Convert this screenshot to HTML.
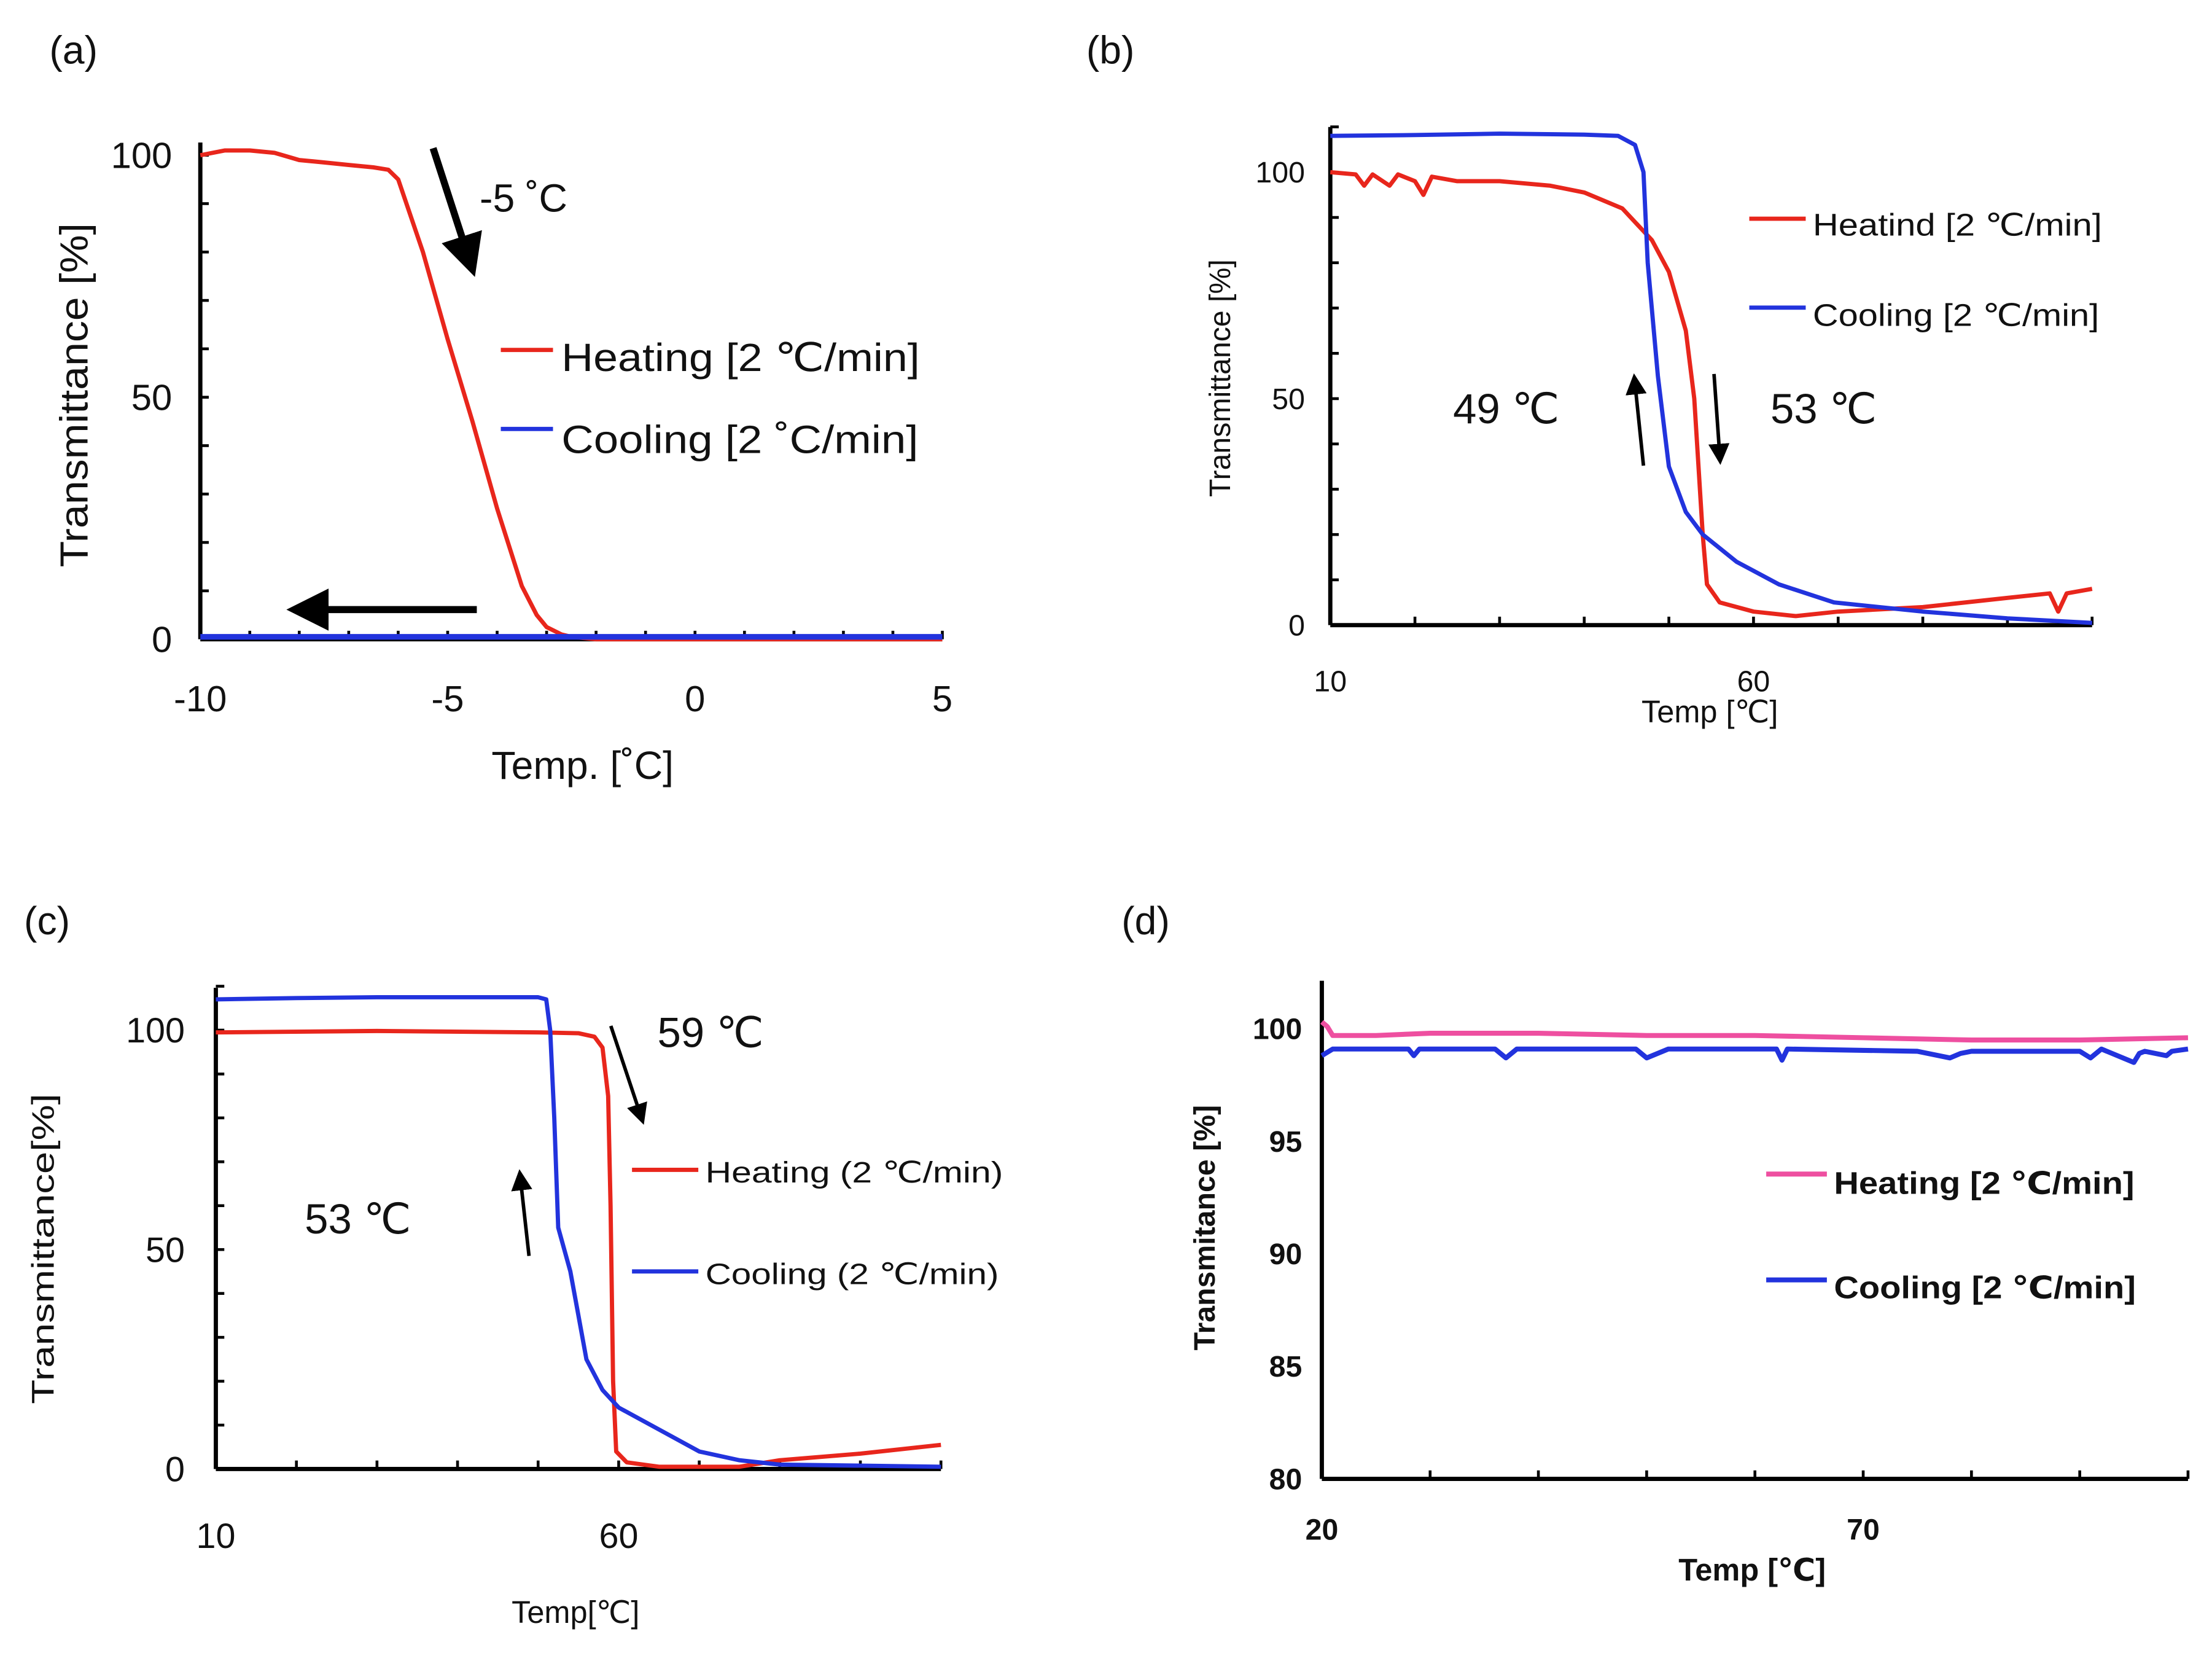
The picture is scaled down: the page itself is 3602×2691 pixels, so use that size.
<!DOCTYPE html>
<html><head><meta charset="utf-8"><style>
html,body{margin:0;padding:0;background:#fff}
svg{display:block}
text{font-family:"Liberation Sans","DejaVu Sans",sans-serif;fill:#111}
</style></head><body>
<svg id="fig" width="3602" height="2691" viewBox="0 0 1568 1171.4" preserveAspectRatio="none" xmlns="http://www.w3.org/2000/svg">
<defs>
<marker id="ah" markerWidth="6" markerHeight="6" refX="3" refY="3" orient="auto" markerUnits="strokeWidth"><path d="M0,0 L6,3 L0,6 z" fill="#000"/></marker>
</defs>
</svg>
<script>
// ---- data ----
const aHeatX=[-10,-9.5,-9,-8.5,-8,-7.5,-7,-6.5,-6.2,-6,-5.5,-5,-4.5,-4,-3.5,-3.2,-3,-2.7,-2.5,-2,0,5];
const aHeatY=[100,101,101,100.5,99,98.5,98,97.5,97,95,80,62,45,27,11,5,2.5,1,0.5,0,0,0];
const aCoolX=[-10,5];
const aCoolY=[0.5,0.5];
const aXTicks=[-10,-5,0,5];
const aYTicks=[0,50,100];

const bHeatX=[10,13,14,15,17,18,20,21,22,25,30,36,40,44.5,48,50,52,53,53.5,54,54.5,56,60,65,70,80,90,95,96,97,100];
const bHeatY=[100,99.5,97,99.5,97,99.5,98,95,99,98,98,97,95.5,92,85,78,65,50,35,20,9,5,3,2,3,4,6,7,3,7,8];
const bCoolX=[10,20,30,40,44,46,47,47.5,48.7,50,52,54,58,63,69.5,80,90,100];
const bCoolY=[108,108.2,108.5,108.3,108,106,100,80,55,35,25,20,14,9,5,3,1.5,0.5];
const bXTicks=[10,60];
const bYTicks=[0,50,100];

const cHeatX=[10,30,50,55,57,58,58.7,59,59.3,59.7,61,65,75,80,90,100];
const cHeatY=[99.5,99.8,99.5,99.3,98.5,96,85,60,20,4,1.5,0.5,0.5,2,3.5,5.5];
const cCoolX=[10,20,30,50,51,51.5,52,52.5,54,55,56,58,60,65,70,75,80,100];
const cCoolY=[107,107.3,107.5,107.5,107,100,80,55,45,35,25,18,14,9,4,2,1,0.5];
const cXTicks=[10,60];
const cYTicks=[0,50,100];

const dHeatX=[20,20.5,21,25,30,35,40,50,60,70,80,90,100];
const dHeatY=[100.3,100.1,99.7,99.7,99.8,99.8,99.8,99.7,99.7,99.6,99.5,99.5,99.6];
const dCoolX=[20,21,28,28.5,29,30,36,37,38,49,50,52,62,62.5,63,75,78,79,80,90,91,92,95,95.5,96,98,98.5,100];
const dCoolY=[98.8,99.1,99.1,98.8,99.1,99.1,99.1,98.7,99.1,99.1,98.7,99.1,99.1,98.6,99.1,99.0,98.7,98.9,99.0,99.0,98.7,99.1,98.5,98.9,99.0,98.8,99.0,99.1];
const dXTicks=[20,70];
const dYTicks=[80,85,90,95,100];

const NS="http://www.w3.org/2000/svg";
const svg=document.getElementById('fig');
function mk(tag,attrs,parent){const e=document.createElementNS(NS,tag);for(const k in attrs)e.setAttribute(k,attrs[k]);(parent||svg).appendChild(e);return e;}
function txt(s,x,y,size,anchor,parent,extra){const t=mk('text',Object.assign({x:x,y:y,'font-size':size,'text-anchor':anchor||'start'},extra||{}),parent);t.textContent=s;return t;}

function panel(p){
  const g=mk('g',{});
  
  
  const sx=v=>p.x0+(v-p.xmin)/(p.xmax-p.xmin)*(p.x1-p.x0);
  const sy=v=>p.y0-(v-p.ymin)/(p.ymax-p.ymin)*(p.y0-p.y1);
  for(let v=p.xmin+p.xminor;v<=p.xmax+1e-6;v+=p.xminor){
    const t=mk('line',{x1:sx(v),x2:sx(v),y1:p.y0,y2:p.y0-6,stroke:'#000','stroke-width':2},g);
    
    
  }
  for(let v=p.ymin+p.yminor;v<=p.ytop+1e-6;v+=p.yminor){
    const t=mk('line',{x1:p.x0,x2:p.x0+6,y1:sy(v),y2:sy(v),stroke:'#000','stroke-width':2},g);
    
    
  }
  const ya=mk('line',{x1:p.x0,x2:p.x0,y1:p.y0,y2:p.yAxisTop,stroke:'#000','stroke-width':3},g);
  
  
  const xa=mk('line',{x1:p.x0,x2:p.x1,y1:p.y0,y2:p.y0,stroke:'#000','stroke-width':3},g);
  
  
  p.xticks.forEach(v=>{const t=txt(String(v),sx(v),p.xLabY,p.tickSize,'middle',g,p.bold?{'font-weight':'bold'}:{});
    
    });
  p.yticks.forEach(v=>{const t=txt(String(v),p.x0-p.yLabGap,sy(v)+p.tickSize*0.35,p.tickSize,'end',g,p.bold?{'font-weight':'bold'}:{});
    
    });
  p.series.forEach(s=>{
    let d='';s.x.forEach((v,i)=>{d+=(i?'L':'M')+sx(v).toFixed(1)+','+sy(s.y[i]).toFixed(1);});
    const l=mk('path',{d:d,fill:'none',stroke:s.color,'stroke-width':s.w||3,'stroke-linejoin':'round'},g);
    
    
  });
  return g;
}

panel({name:'panel-a',x0:142,x1:668,y0:453,y1:110,xmin:-10,xmax:5,ymin:0,ymax:100,ytop:100,yAxisTop:101,xminor:1,yminor:10,xticks:aXTicks,yticks:aYTicks,xLabY:504,tickSize:26,yLabGap:20,
  series:[{name:'heating-line-a',x:aHeatX,y:aHeatY,color:'#e8261c'},{name:'cooling-line-a',x:aCoolX,y:aCoolY,color:'#2233dd',w:4}]});
panel({name:'panel-b',x0:943,x1:1483,y0:443,y1:122,xmin:10,xmax:100,ymin:0,ymax:100,ytop:110,yAxisTop:90,xminor:10,yminor:10,xticks:bXTicks,yticks:bYTicks,xLabY:490,tickSize:21,yLabGap:18,
  series:[{name:'heating-line-b',x:bHeatX,y:bHeatY,color:'#e8261c'},{name:'cooling-line-b',x:bCoolX,y:bCoolY,color:'#2233dd'}]});
panel({name:'panel-c',x0:153,x1:667,y0:1041,y1:730,xmin:10,xmax:100,ymin:0,ymax:100,ytop:110,yAxisTop:700,xminor:10,yminor:10,xticks:cXTicks,yticks:cYTicks,xLabY:1097,tickSize:25,yLabGap:22,
  series:[{name:'heating-line-c',x:cHeatX,y:cHeatY,color:'#e8261c'},{name:'cooling-line-c',x:cCoolX,y:cCoolY,color:'#2233dd'}]});
panel({name:'panel-d',x0:937,x1:1551,y0:1048,y1:729,xmin:20,xmax:100,ymin:80,ymax:100,ytop:80,yAxisTop:695,xminor:10,yminor:100,xticks:dXTicks,yticks:dYTicks,xLabY:1091,tickSize:21,yLabGap:14,bold:true,
  series:[{name:'heating-line-d',x:dHeatX,y:dHeatY,color:'#ee4fa0',w:3.5},{name:'cooling-line-d',x:dCoolX,y:dCoolY,color:'#2233dd',w:3.5}]});
</script>
<script>
(function(){
const NS="http://www.w3.org/2000/svg";const svg=document.getElementById('fig');
function mk(tag,attrs){const e=document.createElementNS(NS,tag);for(const k in attrs)e.setAttribute(k,attrs[k]);svg.appendChild(e);return e;}
function T(s,x,y,size,name,extra){const t=mk('text',Object.assign({x:x,y:y,'font-size':size},extra||{}));t.textContent=s;

return t;}
function L(x1,y1,x2,y2,c,w,name,arrow){const l=mk('line',{x1:x1,y1:y1,x2:x2,y2:y2,stroke:c,'stroke-width':w});if(arrow)l.setAttribute('marker-end','url(#ah)');

return l;}
const TL=n=>({textLength:n,lengthAdjust:'spacingAndGlyphs'});
T('(a)',35,45,28,'panel-label-a');T('(b)',770,45,28,'panel-label-b');T('(c)',17,662,28,'panel-label-c');T('(d)',795,662,28,'panel-label-d');
// (a)
T('Transmittance [%]',62,280,28,'y-axis-title-a',Object.assign({'text-anchor':'middle',transform:'rotate(-90 62 280)'},TL(244)));
T('Temp. [˚C]',413,552,28,'x-axis-title-a',{'text-anchor':'middle'});
T('-5 ˚C',340,150,28,'annotation-a');
L(307,105,332,182,'#000',5,'arrow-down-a',true);L(338,432,218,432,'#000',5,'arrow-left-a',true);
L(355,248,392,248,'#e8261c',3,'legend-heating-a');T('Heating [2 ℃/min]',398,263,28,'legend-text-heating-a',TL(254));
L(355,304,392,304,'#2233dd',3,'legend-cooling-a');T('Cooling [2 ˚C/min]',398,321,28,'legend-text-cooling-a',TL(253));
// (b)
T('Transmittance [%]',872,268,21,'y-axis-title-b',{'text-anchor':'middle',transform:'rotate(-90 872 268)'});
T('Temp [℃]',1212,512,22,'x-axis-title-b',{'text-anchor':'middle'});
T('49 ℃',1030,300,30,'annotation-49');T('53 ℃',1255,300,30,'annotation-53-b');
L(1165,330,1159,272,'#000',2.5,'arrow-up-b',true);L(1215,265,1219,322,'#000',2.5,'arrow-down-b',true);
L(1240,155,1280,155,'#e8261c',3,'legend-heating-b');T('Heatind [2 ℃/min]',1285,167,22,'legend-text-heating-b',TL(205));
L(1240,218,1280,218,'#2233dd',3,'legend-cooling-b');T('Cooling [2 ℃/min]',1285,231,22,'legend-text-cooling-b',TL(203));
// (c)
T('Transmittance[%]',38,885,22,'y-axis-title-c',Object.assign({'text-anchor':'middle',transform:'rotate(-90 38 885)'},TL(220)));
T('Temp[℃]',408,1150,22,'x-axis-title-c',{'text-anchor':'middle'});
T('59 ℃',466,742,30,'annotation-59');T('53 ℃',216,874,30,'annotation-53-c');
L(433,727,454,790,'#000',2.5,'arrow-down-c',true);L(375,890,369,836,'#000',2.5,'arrow-up-c',true);
L(448,829,495,829,'#e8261c',3,'legend-heating-c');T('Heating (2 ℃/min)',500,838,21,'legend-text-heating-c',TL(211));
L(448,901,495,901,'#2233dd',3,'legend-cooling-c');T('Cooling (2 ℃/min)',500,910,21,'legend-text-cooling-c',TL(208));
// (d)
T('Transmitance [%]',861,870,21,'y-axis-title-d',{'text-anchor':'middle','font-weight':'bold',transform:'rotate(-90 861 870)'});
T('Temp [℃]',1242,1120,22,'x-axis-title-d',{'text-anchor':'middle','font-weight':'bold'});
L(1252,832,1295,832,'#ee4fa0',3.5,'legend-heating-d');T('Heating [2 ℃/min]',1300,846,22,'legend-text-heating-d',Object.assign({'font-weight':'bold'},TL(213)));
L(1252,907,1295,907,'#2233dd',3.5,'legend-cooling-d');T('Cooling [2 ℃/min]',1300,920,22,'legend-text-cooling-d',Object.assign({'font-weight':'bold'},TL(214)));
})();
</script>
</body></html>
